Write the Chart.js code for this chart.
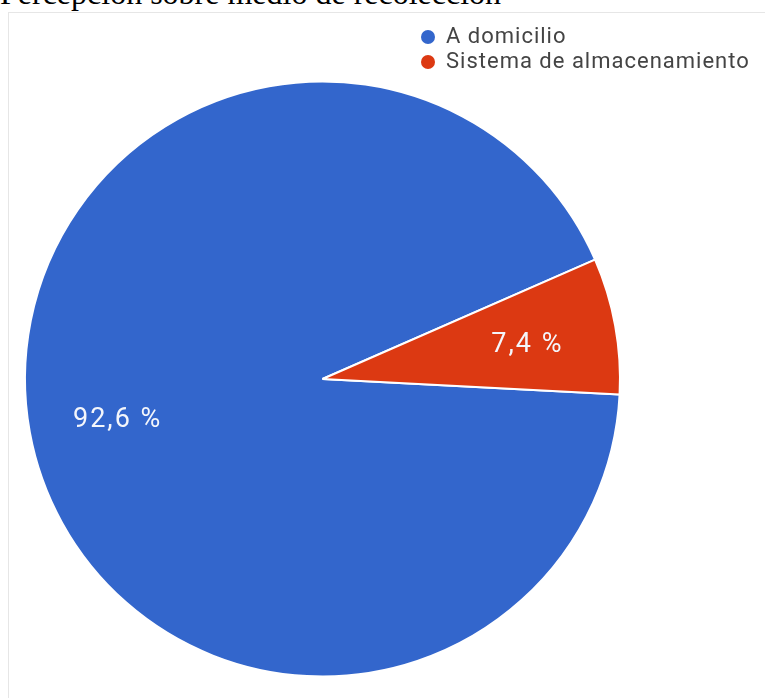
<!DOCTYPE html>
<html>
<head>
<meta charset="utf-8">
<script src="https://cdn.jsdelivr.net/npm/chart.js@4"></script>
<style>
  body { margin: 0; background: #fff; overflow: hidden; }
  #title {
    position: absolute; left: 0px; top: -23px;
    font: 32px/32px "Liberation Serif", "Times New Roman", serif;
    color: #000; white-space: nowrap;
  }
  #frame {
    position: absolute; left: 8px; top: 12px; width: 820px; height: 760px;
    border: 1px solid #e6e6e6;
  }
  #wrap { position: absolute; left: 0; top: 0; width: 765px; height: 698px; }
</style>
</head>
<body>
<div id="title">Percepción sobre medio de recolección</div>
<div id="frame"></div>
<div id="wrap"><canvas id="myChart"></canvas></div>
<script>
// chart data
const labels = ['A domicilio', 'Sistema de almacenamiento'];
const percentages = [92.6, 7.4];
const sliceColors = ['#3366cc', '#dc3912'];

// labels inside slices, "92,6 %"
const sliceLabels = {
  id: 'sliceLabels',
  afterDatasetsDraw(chart) {
    const {ctx} = chart;
    const meta = chart.getDatasetMeta(0);
    ctx.save();
    ctx.font = '27px Roboto, Arial, sans-serif';
    ctx.letterSpacing = '2px';
    ctx.fillStyle = '#f4f6fb';
    ctx.textAlign = 'center';
    ctx.textBaseline = 'middle';
    meta.data.forEach((arc, i) => {
      const {x, y, startAngle, endAngle, outerRadius} = arc.getProps(['x', 'y', 'startAngle', 'endAngle', 'outerRadius'], true);
      const mid = (startAngle + endAngle) / 2;
      const r = outerRadius * 0.7;
      const txt = percentages[i].toFixed(1).replace('.', ',') + ' %';
      ctx.fillText(txt, x + Math.cos(mid) * r, y + Math.sin(mid) * r + 4);
    });
    ctx.restore();
  }
};

// legend in the top right, two rows, over the chart
const cornerLegend = {
  id: 'cornerLegend',
  afterDraw(chart) {
    const {ctx} = chart;
    ctx.save();
    ctx.font = '22px Roboto, Arial, sans-serif';
    ctx.letterSpacing = '1px';
    ctx.textBaseline = 'middle';
    labels.forEach((lbl, i) => {
      const y = 37 + i * 25;
      ctx.fillStyle = sliceColors[i];
      ctx.beginPath();
      ctx.arc(428, y, 7, 0, Math.PI * 2);
      ctx.fill();
      ctx.fillStyle = '#444444';
      ctx.fillText(lbl, 446, y);
    });
    ctx.restore();
  }
};

const config = {
  type: 'pie',
  data: {
    labels: labels,
    datasets: [{
      data: percentages,
      backgroundColor: sliceColors,
      borderColor: '#ffffff',
      borderWidth: 2
    }]
  },
  options: {
    responsive: true,
    maintainAspectRatio: false,
    animation: false,
    rotation: 93,
    layout: {
      padding: { left: 24, top: 80, right: 144, bottom: 20 }
    },
    plugins: {
      legend: { display: false },
      tooltip: { enabled: false }
    }
  },
  plugins: [sliceLabels, cornerLegend]
};

const myChart = new Chart(document.getElementById('myChart'), config);
</script>
</body>
</html>
